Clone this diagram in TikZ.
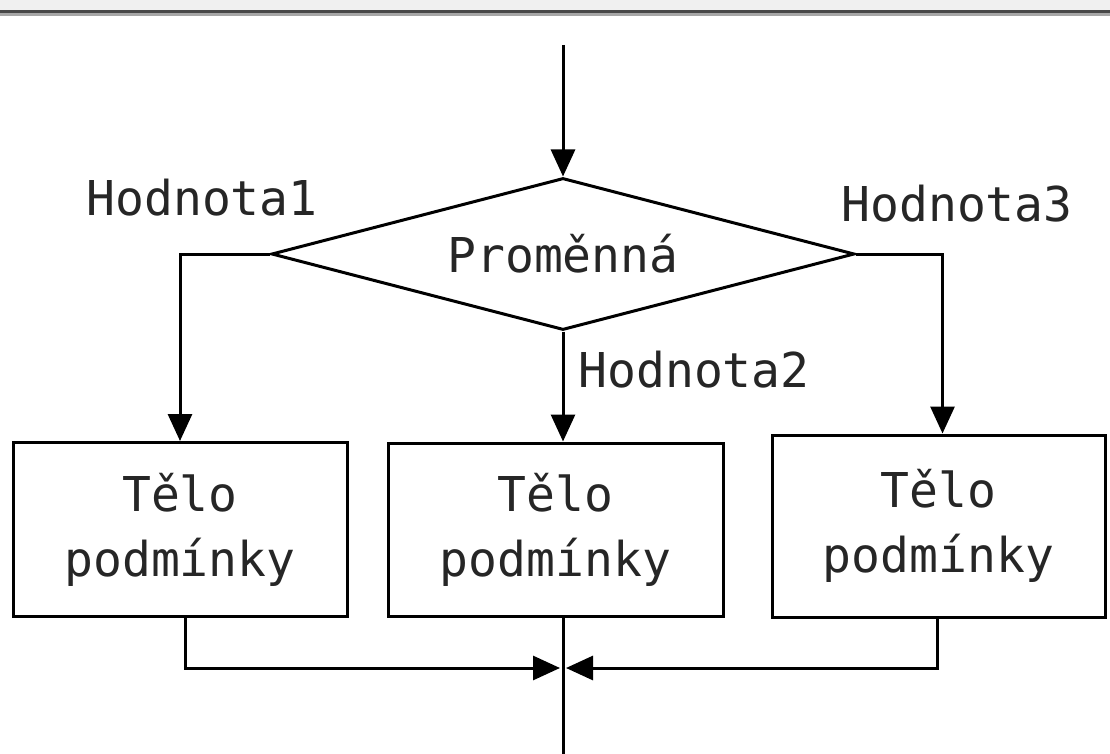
\documentclass[tikz,border=0pt]{standalone}
\usepackage{fontspec}
\setmonofont{DejaVu Sans Mono}
\usetikzlibrary{arrows.meta,shapes.geometric}
\begin{document}
\begin{tikzpicture}[x=1pt,y=-1pt,
  line width=3pt,
  every node/.style={font=\ttfamily\fontsize{48}{65}\selectfont, text=black!85},
  body/.style={draw, rectangle, align=center, inner sep=0pt},
  decision/.style={draw, diamond, inner sep=0pt, aspect=3.8,
                   minimum width=583pt, minimum height=152pt},
  flow/.style={-{Triangle[length=27pt,width=24pt]}},
  lbl/.style={anchor=base west, inner sep=0pt}]
\useasboundingbox (0,0) rectangle (1110,754);
\fill[white] (0,0) rectangle (1110,754);
% window frame strip at the top
\fill[gray!12] (0,0) rectangle (1110,10);
\draw[line width=3pt, black!72] (0,11.5) -- (1110,11.5);
\draw[line width=3pt, black!35] (0,14.5) -- (1110,14.5);

% decision and the three bodies
\node[decision] (var) at (563,254) {Proměnná};
\node[body, minimum width=334pt, minimum height=174pt] (b1) at (180,529.5) {Tělo\\podmínky};
\node[body, minimum width=335pt, minimum height=173pt] (b2) at (555.5,529.5) {Tělo\\podmínky};
\node[body, minimum width=333pt, minimum height=182pt] (b3) at (938.5,526) {Tělo\\podmínky};

% free ends
\coordinate (start) at (563,45);
\coordinate (join) at (563,668);
\coordinate (end) at (563,754);

% branch labels
\node[lbl] (v1) at (85,215) {Hodnota1};
\node[lbl] (v2) at (577,387) {Hodnota2};
\node[lbl] (v3) at (840,222) {Hodnota3};

% connectors
\draw[flow] (start) -- (var.north);
\draw[flow] (var.west) -| (b1.north);
\draw[flow] (var.south) -- (var.south |- b2.north);
\draw[flow] (var.east) -| ([xshift=4pt]b3.north);
\draw[flow] ([xshift=5pt]b1.south) |- ([xshift=-3pt]join);
\draw[flow] ([xshift=-1pt]b3.south) |- ([xshift=3pt]join);
\draw (join |- b2.south) -- (end);
\end{tikzpicture}
\end{document}
